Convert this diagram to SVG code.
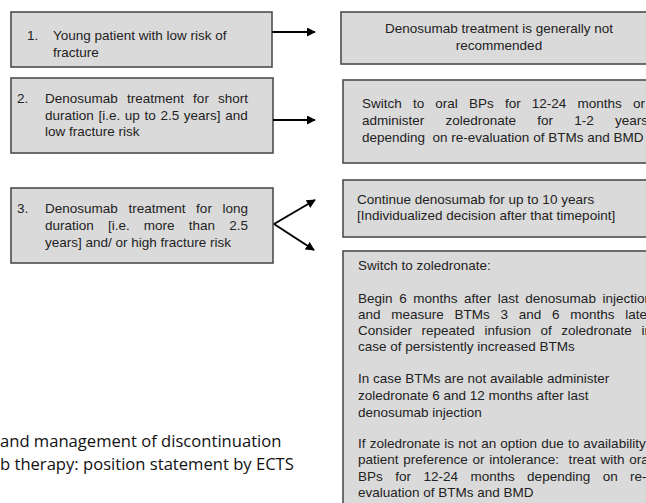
<svg xmlns="http://www.w3.org/2000/svg" width="646" height="503" viewBox="0 0 646 503">
<defs>
<style>
.box{fill:#dadada;stroke:#4d4d4d;stroke-width:1.6}
.t{font-family:"Liberation Sans",Arial,sans-serif;font-size:13.5px;fill:#222}
.c{text-anchor:middle}
.cap{font-family:"Open Sans","Noto Sans",sans-serif;font-size:16.6px;fill:#111}
.arr{stroke:#000;stroke-width:2;fill:none;marker-end:url(#ah)}
</style>
<marker id="ah" viewBox="0 0 10 10" refX="9" refY="5" markerWidth="4.5" markerHeight="4.5" orient="auto" markerUnits="strokeWidth">
<path d="M0,0 L10,5 L0,10 z" fill="#000"/>
</marker>
</defs>
<rect width="646" height="503" fill="#fff"/>
<g id="n1">
<rect class="box" x="11" y="12" width="261" height="55"/>
<text class="t" x="27" y="40">1.</text>
<text class="t" x="53" y="40">Young patient with low risk of</text>
<text class="t" x="53" y="57">fracture</text>
</g>
<g id="n2">
<rect class="box" x="11" y="78" width="262" height="75"/>
<text class="t" x="17" y="103">2.</text>
<text class="t" x="45" y="103" style="word-spacing:5.4px">Denosumab treatment for short</text>
<text class="t" x="45" y="119.5" style="word-spacing:0.9px">duration [i.e. up to 2.5 years] and</text>
<text class="t" x="45" y="136">low fracture risk</text>
</g>
<g id="n3">
<rect class="box" x="11" y="188" width="262" height="75"/>
<text class="t" x="17" y="213">3.</text>
<text class="t" x="45" y="213" style="word-spacing:6.9px">Denosumab treatment for long</text>
<text class="t" x="45" y="230" style="word-spacing:10.4px">duration [i.e. more than 2.5</text>
<text class="t" x="45" y="247">years] and/ or high fracture risk</text>
</g>
<g id="nA">
<rect class="box" x="341" y="12" width="330" height="52"/>
<text class="t c" x="499" y="33">Denosumab treatment is generally not</text>
<text class="t c" x="499" y="50">recommended</text>
</g>
<g id="nB">
<rect class="box" x="343" y="80" width="330" height="83"/>
<text class="t" x="362" y="108" style="word-spacing:7.4px">Switch to oral BPs for 12-24 months or</text>
<text class="t" x="362" y="125" style="word-spacing:17.5px">administer zoledronate for 1-2 years</text>
<text class="t" x="362" y="142" xml:space="preserve">depending  on re-evaluation of BTMs and BMD</text>
</g>
<g id="nC">
<rect class="box" x="343" y="180" width="330" height="57"/>
<text class="t" x="357" y="204">Continue denosumab for up to 10 years</text>
<text class="t" x="357" y="220">[Individualized decision after that timepoint]</text>
</g>
<g id="nD">
<rect class="box" x="343" y="251" width="330" height="270"/>
<text class="t" x="358" y="270">Switch to zoledronate:</text>
<text class="t" x="358" y="303" style="word-spacing:2.85px">Begin 6 months after last denosumab injection</text>
<text class="t" x="358" y="319" style="word-spacing:7px">and measure BTMs 3 and 6 months later</text>
<text class="t" x="358" y="335" style="word-spacing:5.8px">Consider repeated infusion of zoledronate in</text>
<text class="t" x="358" y="351">case of persistently increased BTMs</text>
<text class="t" x="358" y="383">In case BTMs are not available administer</text>
<text class="t" x="358" y="400">zoledronate 6 and 12 months after last</text>
<text class="t" x="358" y="417">denosumab injection</text>
<text class="t" x="358" y="448" style="word-spacing:0.4px">If zoledronate is not an option due to availability</text>
<text class="t" x="358" y="464" style="word-spacing:1px" xml:space="preserve">patient preference or intolerance:  treat with oral</text>
<text class="t" x="358" y="481" style="word-spacing:8.7px">BPs for 12-24 months depending on re-</text>
<text class="t" x="358" y="497">evaluation of BTMs and BMD</text>
</g>
<g id="connectors">
<line class="arr" x1="272" y1="32" x2="315" y2="32"/>
<line class="arr" x1="273" y1="120" x2="315" y2="120"/>
<line class="arr" x1="274" y1="224" x2="315" y2="200"/>
<line class="arr" x1="274" y1="224" x2="314" y2="250"/>
</g>
<g id="caption">
<text class="cap" x="0" y="447">and management of discontinuation</text>
<text class="cap" x="0" y="470">b therapy: position statement by ECTS</text>
</g>
</svg>
